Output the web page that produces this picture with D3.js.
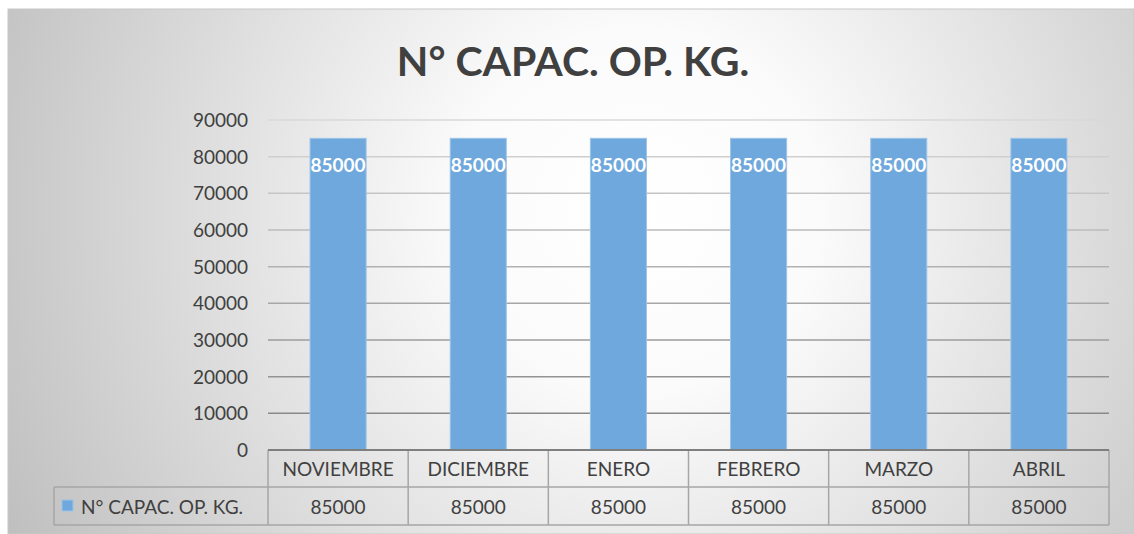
<!DOCTYPE html>
<html><head><meta charset="utf-8">
<script src="https://cdn.jsdelivr.net/npm/d3@7"></script>
<style>html,body{margin:0;padding:0;background:#fff;}svg{display:block;}</style>
</head><body>
<script>
const categories = ["NOVIEMBRE","DICIEMBRE","ENERO","FEBRERO","MARZO","ABRIL"];
const seriesName = "N° CAPAC. OP. KG.";
const values = [85000,85000,85000,85000,85000,85000];
const yTicks = [0,10000,20000,30000,40000,50000,60000,70000,80000,90000];
const title = "N° CAPAC. OP. KG.";

(function(){
const W=1134,H=534;
const font="Lato, 'Open Sans', sans-serif";
const svg=d3.select("body").append("svg").attr("width",W).attr("height",H);
const defs=svg.append("defs");
const rg=defs.append("radialGradient").attr("id","bg").attr("gradientUnits","userSpaceOnUse")
  .attr("cx",640).attr("cy",210).attr("r",720);
rg.append("stop").attr("offset","0%").attr("stop-color","#ffffff");
rg.append("stop").attr("offset","25%").attr("stop-color","#fbfbfb");
rg.append("stop").attr("offset","100%").attr("stop-color","#bebebe");
svg.append("rect").attr("x",8).attr("y",9).attr("width",W-8).attr("height",H-9).attr("fill","url(#bg)")
  .attr("stroke","#c8c8c8").attr("stroke-width",1);

svg.append("text").attr("x",573).attr("y",76).attr("text-anchor","middle")
  .attr("font-family",font).attr("font-weight","bold").attr("font-size",41).attr("fill","#404040").text(title);

const pl=268,pr=1109,pt=120,pb=450;
const x=d3.scaleBand().domain(categories).range([pl,pr]).paddingInner(0.6).paddingOuter(0.3);
const xc=d3.scaleBand().domain(categories).range([pl,pr]);
const y=d3.scaleLinear().domain([0,90000]).range([pb,pt]);

const gcol=d3.scaleLinear().domain([0,90000]).range(["#7f7f7f","#d9d9d9"]);
svg.append("g").selectAll("line").data(yTicks.filter(d=>d>0)).join("line")
  .attr("x1",pl).attr("x2",pr).attr("y1",d=>y(d)).attr("y2",d=>y(d))
  .attr("stroke",d=>gcol(d)).attr("stroke-width",1.5);

const ya=svg.append("g").attr("transform",`translate(${pl-20},0)`)
  .call(d3.axisLeft(y).tickValues(yTicks).tickSize(0).tickPadding(0).tickFormat(d3.format("d")));
ya.select(".domain").remove();
ya.selectAll("text").attr("font-family",font).attr("font-size",19).attr("fill","#404040").attr("dy","0.35em");

svg.append("g").selectAll("rect").data(values).join("rect")
  .attr("x",(d,i)=>x(categories[i])).attr("width",x.bandwidth())
  .attr("y",d=>y(d)).attr("height",d=>pb-y(d))
  .attr("fill","#6fa8dc").attr("stroke","#9cc3e8").attr("stroke-width",1);
svg.append("g").selectAll("text").data(values).join("text")
  .attr("x",(d,i)=>x(categories[i])+x.bandwidth()/2).attr("y",d=>y(d)+27)
  .attr("dy","0.35em").attr("text-anchor","middle").attr("font-family",font).attr("font-weight","bold")
  .attr("font-size",19).attr("fill","#ffffff").text(d=>d);

const r1=pb,r2=487,r3=525,legL=54;
const tb=svg.append("g").attr("stroke","#a6a6a6").attr("stroke-width",1.5).attr("fill","none");
tb.append("line").attr("x1",legL).attr("x2",pr).attr("y1",r2).attr("y2",r2);
tb.append("line").attr("x1",legL).attr("x2",pr).attr("y1",r3).attr("y2",r3);
tb.append("line").attr("x1",legL).attr("x2",legL).attr("y1",r2).attr("y2",r3);
categories.forEach(c=>{tb.append("line").attr("x1",xc(c)).attr("x2",xc(c)).attr("y1",r1).attr("y2",r3);});
tb.append("line").attr("x1",pr).attr("x2",pr).attr("y1",r1).attr("y2",r3);
svg.append("line").attr("x1",pl).attr("x2",pr).attr("y1",pb).attr("y2",pb).attr("stroke","#7f7f7f").attr("stroke-width",2);

svg.append("g").selectAll("text").data(categories).join("text")
  .attr("x",d=>xc(d)+xc.bandwidth()/2).attr("y",(r1+r2)/2+1).attr("dy","0.35em").attr("text-anchor","middle")
  .attr("font-family",font).attr("font-size",19).attr("fill","#404040").text(d=>d);
svg.append("g").selectAll("text").data(values).join("text")
  .attr("x",(d,i)=>xc(categories[i])+xc.bandwidth()/2).attr("y",(r2+r3)/2+1).attr("dy","0.35em").attr("text-anchor","middle")
  .attr("font-family",font).attr("font-size",19).attr("fill","#404040").text(d=>d);
svg.append("rect").attr("x",62).attr("y",500).attr("width",11).attr("height",11).attr("fill","#6fa8dc").attr("stroke","#9cc3e8");
svg.append("text").attr("x",81).attr("y",(r2+r3)/2+1).attr("dy","0.35em").attr("font-family",font).attr("font-size",19)
  .attr("fill","#404040").text(seriesName);
})();
</script>
</body></html>
